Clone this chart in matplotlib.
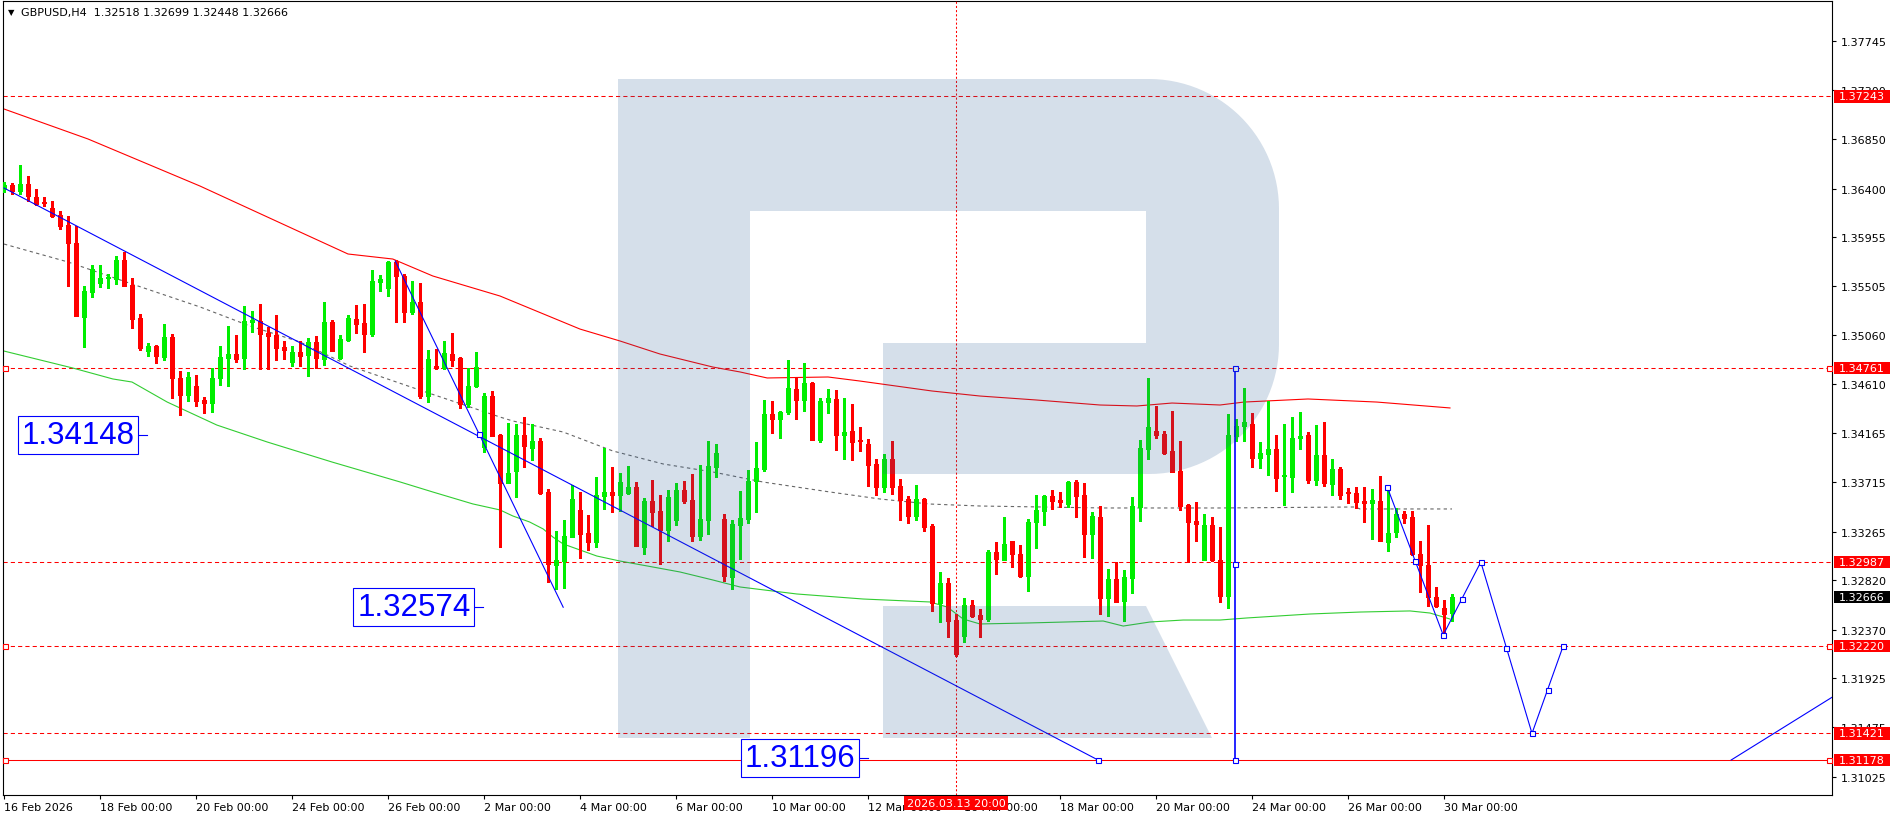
# GBPUSD H4 chart, MetaTrader style
import numpy as np
import matplotlib.pyplot as plt
from matplotlib.patches import Polygon, Rectangle

# candles, one per 4 hours from 16 Feb 2026 00:00 (6 bars a day, weekdays only)
opens = [
    1.36396, 1.36432, 1.36378, 1.36441, 1.36323, 1.36277, 1.36222, 1.36158, 1.36067, 1.35902,
    1.35226, 1.35455, 1.35537, 1.35582, 1.35573, 1.35747, 1.35518, 1.35217, 1.34916, 1.34961,
    1.34861, 1.35043, 1.34669, 1.34513, 1.34596, 1.34468, 1.34440, 1.34669, 1.34852, 1.34888,
    1.34852, 1.35180, 1.35189, 1.35080, 1.35061, 1.34952, 1.34815, 1.34906, 1.34879, 1.34998,
    1.34842, 1.35180, 1.34852, 1.35016, 1.35208, 1.35171, 1.35070, 1.35546, 1.35491, 1.35729,
    1.35601, 1.35272, 1.35363, 1.34504, 1.34778, 1.34760, 1.34888, 1.34852, 1.34431, 1.34596,
    1.34038, 1.34504, 1.34148, 1.33709, 1.33819, 1.34148, 1.34029, 1.34093, 1.33627, 1.32960,
    1.32997, 1.33216, 1.33463, 1.33252, 1.33170, 1.33591, 1.33627, 1.33600, 1.33618, 1.33673,
    1.33124, 1.33545, 1.33454, 1.33280, 1.33371, 1.33645, 1.33554, 1.33225, 1.33371, 1.33856,
    1.33380, 1.32850, 1.33326, 1.33380, 1.33728, 1.33837, 1.34340, 1.34294, 1.34358, 1.34568,
    1.34468, 1.34623, 1.34102, 1.34449, 1.34477, 1.34148, 1.34184, 1.34102, 1.34066, 1.33883,
    1.33673, 1.33929, 1.33682, 1.33563, 1.33408, 1.33563, 1.33316, 1.32613, 1.32795, 1.32457,
    1.32311, 1.32595, 1.32503, 1.32466, 1.33079, 1.33006, 1.33179, 1.33060, 1.32860, 1.33353,
    1.33454, 1.33591, 1.33554, 1.33517, 1.33718, 1.33600, 1.33243, 1.33399, 1.32658, 1.32832,
    1.32631, 1.32841, 1.33490, 1.34020, 1.34184, 1.34157, 1.34002, 1.33819, 1.33508, 1.33362,
    1.33006, 1.33326, 1.33006, 1.32677, 1.34139, 1.34230, 1.34248, 1.33938, 1.33974, 1.34020,
    1.33773, 1.33764, 1.34120, 1.34148, 1.33737, 1.33965, 1.33700, 1.33837, 1.33627, 1.33618,
    1.33545, 1.33526, 1.33545, 1.33170, 1.33261, 1.33426, 1.33399, 1.33060, 1.32960, 1.32667,
    1.32567, 1.32518]
highs = [
    1.36460, 1.36450, 1.36615, 1.36515, 1.36396, 1.36323, 1.36286, 1.36195, 1.36149, 1.36058,
    1.35509, 1.35701, 1.35701, 1.35619, 1.35784, 1.35820, 1.35582, 1.35253, 1.34988, 1.34970,
    1.35162, 1.35070, 1.34733, 1.34724, 1.34696, 1.34495, 1.34760, 1.34961, 1.35144, 1.35061,
    1.35327, 1.35281, 1.35345, 1.35135, 1.35244, 1.35007, 1.34961, 1.35007, 1.35034, 1.35052,
    1.35363, 1.35198, 1.35061, 1.35244, 1.35336, 1.35345, 1.35656, 1.35610, 1.35738, 1.35747,
    1.35619, 1.35555, 1.35537, 1.34925, 1.34934, 1.35007, 1.35080, 1.34861, 1.34760, 1.34906,
    1.34532, 1.34550, 1.34157, 1.34258, 1.34248, 1.34312, 1.34248, 1.34120, 1.33654, 1.33271,
    1.33371, 1.33691, 1.33627, 1.33417, 1.33764, 1.34029, 1.33856, 1.33801, 1.33865, 1.33718,
    1.33572, 1.33737, 1.33600, 1.33645, 1.33709, 1.33728, 1.33792, 1.33874, 1.34093, 1.34066,
    1.33426, 1.33371, 1.33636, 1.33829, 1.34084, 1.34468, 1.34459, 1.34367, 1.34833, 1.34678,
    1.34806, 1.34632, 1.34486, 1.34568, 1.34559, 1.34486, 1.34431, 1.34221, 1.34111, 1.33929,
    1.33974, 1.34093, 1.33746, 1.33591, 1.33691, 1.33572, 1.33335, 1.32896, 1.32841, 1.32512,
    1.32658, 1.32640, 1.32558, 1.33097, 1.33170, 1.33399, 1.33179, 1.33143, 1.33380, 1.33600,
    1.33600, 1.33645, 1.33627, 1.33728, 1.33737, 1.33709, 1.33444, 1.33499, 1.32923, 1.32988,
    1.32914, 1.33581, 1.34102, 1.34669, 1.34413, 1.34184, 1.34367, 1.34093, 1.33517, 1.33536,
    1.33426, 1.33399, 1.33307, 1.34340, 1.34294, 1.34577, 1.34349, 1.34084, 1.34459, 1.34148,
    1.34248, 1.34312, 1.34358, 1.34175, 1.34239, 1.34267, 1.33929, 1.33856, 1.33664, 1.33673,
    1.33673, 1.33654, 1.33774, 1.33654, 1.33481, 1.33454, 1.33454, 1.33179, 1.33325, 1.32759,
    1.32640, 1.32699]
lows = [
    1.36369, 1.36350, 1.36350, 1.36286, 1.36249, 1.36240, 1.36140, 1.36030, 1.35509, 1.35235,
    1.34952, 1.35409, 1.35500, 1.35491, 1.35527, 1.35509, 1.35125, 1.34925, 1.34870, 1.34806,
    1.34833, 1.34486, 1.34330, 1.34459, 1.34413, 1.34349, 1.34358, 1.34605, 1.34596, 1.34815,
    1.34751, 1.35089, 1.34751, 1.34751, 1.34833, 1.34842, 1.34778, 1.34778, 1.34687, 1.34760,
    1.34787, 1.34916, 1.34842, 1.35007, 1.35080, 1.34906, 1.35052, 1.35464, 1.35418, 1.35180,
    1.35180, 1.35253, 1.34486, 1.34449, 1.34751, 1.34751, 1.34778, 1.34394, 1.34404, 1.34586,
    1.33993, 1.34139, 1.33124, 1.33709, 1.33581, 1.33856, 1.33920, 1.33609, 1.32805, 1.32741,
    1.32750, 1.33216, 1.33024, 1.33097, 1.33124, 1.33472, 1.33444, 1.33454, 1.33609, 1.33133,
    1.33060, 1.33316, 1.32969, 1.33179, 1.33326, 1.33526, 1.33179, 1.33188, 1.33243, 1.33764,
    1.32814, 1.32741, 1.33015, 1.33344, 1.33444, 1.33819, 1.34166, 1.34120, 1.34340, 1.34294,
    1.34367, 1.34102, 1.34084, 1.34349, 1.34011, 1.33929, 1.33920, 1.34002, 1.33682, 1.33600,
    1.33627, 1.33609, 1.33371, 1.33344, 1.33371, 1.33271, 1.32540, 1.32439, 1.32302, 1.32128,
    1.32256, 1.32485, 1.32302, 1.32448, 1.32878, 1.33006, 1.32942, 1.32850, 1.32722, 1.33115,
    1.33326, 1.33472, 1.33490, 1.33490, 1.33399, 1.33033, 1.33024, 1.32512, 1.32494, 1.32622,
    1.32448, 1.32704, 1.33362, 1.33929, 1.34120, 1.33974, 1.33810, 1.33463, 1.32988, 1.33179,
    1.33006, 1.32997, 1.32622, 1.32567, 1.34093, 1.34093, 1.33856, 1.33847, 1.33782, 1.33636,
    1.33508, 1.33627, 1.34020, 1.33709, 1.33691, 1.33682, 1.33600, 1.33563, 1.33526, 1.33481,
    1.33353, 1.33197, 1.33179, 1.33088, 1.33216, 1.33344, 1.33051, 1.32713, 1.32585, 1.32576,
    1.32348, 1.32448]
closes = [
    1.36432, 1.36378, 1.36441, 1.36332, 1.36258, 1.36268, 1.36149, 1.36058, 1.35902, 1.35235,
    1.35464, 1.35665, 1.35582, 1.35591, 1.35747, 1.35509, 1.35208, 1.34943, 1.34961, 1.34870,
    1.35043, 1.34669, 1.34513, 1.34678, 1.34459, 1.34440, 1.34669, 1.34861, 1.34888, 1.34842,
    1.35189, 1.35198, 1.35070, 1.35052, 1.34943, 1.34925, 1.34906, 1.34870, 1.34998, 1.34852,
    1.35180, 1.34916, 1.35025, 1.35217, 1.35162, 1.35070, 1.35555, 1.35573, 1.35729, 1.35601,
    1.35272, 1.35363, 1.34504, 1.34842, 1.34760, 1.34897, 1.34833, 1.34431, 1.34596, 1.34769,
    1.34504, 1.34139, 1.33709, 1.33801, 1.34148, 1.34047, 1.34093, 1.33618, 1.32969, 1.33006,
    1.33225, 1.33563, 1.33243, 1.33170, 1.33600, 1.33627, 1.33600, 1.33718, 1.33673, 1.33133,
    1.33545, 1.33444, 1.33280, 1.33581, 1.33645, 1.33545, 1.33225, 1.33380, 1.33865, 1.33984,
    1.32860, 1.33335, 1.33390, 1.33728, 1.33847, 1.34340, 1.34294, 1.34358, 1.34577, 1.34468,
    1.34623, 1.34102, 1.34459, 1.34486, 1.34148, 1.34175, 1.34084, 1.34093, 1.33874, 1.33673,
    1.33929, 1.33673, 1.33554, 1.33408, 1.33563, 1.33307, 1.32613, 1.32795, 1.32448, 1.32146,
    1.32595, 1.32494, 1.32466, 1.33079, 1.33015, 1.33152, 1.33060, 1.32860, 1.33353, 1.33463,
    1.33591, 1.33545, 1.33536, 1.33718, 1.33591, 1.33243, 1.33408, 1.32658, 1.32832, 1.32622,
    1.32850, 1.33499, 1.34029, 1.34221, 1.34148, 1.33984, 1.33810, 1.33499, 1.33353, 1.33335,
    1.33326, 1.33006, 1.32677, 1.34148, 1.34230, 1.34267, 1.33938, 1.33984, 1.34020, 1.33755,
    1.33782, 1.34120, 1.34139, 1.33737, 1.33965, 1.33709, 1.33837, 1.33600, 1.33618, 1.33536,
    1.33526, 1.33554, 1.33179, 1.33252, 1.33426, 1.33390, 1.33060, 1.32960, 1.32667, 1.32585,
    1.32512, 1.32666]

date_labels = ["16 Feb 2026", "18 Feb 00:00", "20 Feb 00:00", "24 Feb 00:00", "26 Feb 00:00",
               "2 Mar 00:00", "4 Mar 00:00", "6 Mar 00:00", "10 Mar 00:00", "12 Mar 00:00",
               "16 Mar 00:00", "18 Mar 00:00", "20 Mar 00:00", "24 Mar 00:00", "26 Mar 00:00",
               "30 Mar 00:00"]
price_ticks = [1.37745, 1.37300, 1.36850, 1.36400, 1.35955, 1.35505, 1.35060, 1.34610,
               1.34165, 1.33715, 1.33265, 1.32820, 1.32370, 1.31925, 1.31475, 1.31025]

# moving averages, read at a few bars (bar index, price)
ma_red_x = [0, 10.5, 24.5, 37, 43, 48.6, 53.6, 62, 72, 77, 82, 88.6, 92, 95.4, 103, 107,
            116, 122, 129, 137, 141.6, 146, 152, 155, 163, 171.6, 180.75]
ma_red_y = [1.37127, 1.36853, 1.36423, 1.36003, 1.35802, 1.35756, 1.35601, 1.35418, 1.35116,
            1.35007, 1.34888, 1.34769, 1.34724, 1.34669, 1.34678, 1.34641, 1.34550, 1.34504,
            1.34468, 1.34422, 1.34413, 1.34440, 1.34422, 1.34449, 1.34477, 1.34449, 1.34395]
ma_green_x = [0, 8.6, 13.6, 16, 20.4, 26.6, 32.9, 41, 49.5, 53.6, 58.6, 62, 63.6, 65.7, 67.4,
              68.6, 69.9, 72, 74.1, 77, 80.4, 84.5, 88.6, 92, 99.1, 107.4, 115.75, 117.9,
              119.9, 122, 128, 137.4, 139.9, 143.25, 147.4, 152, 155.4, 163.25, 169.5,
              175.75, 178.25, 180.75]
ma_green_y = [1.34915, 1.34760, 1.34660, 1.34632, 1.34449, 1.34239, 1.34084, 1.33901, 1.33719,
              1.33627, 1.33518, 1.33463, 1.33408, 1.33353, 1.33289, 1.33216, 1.33152, 1.33097,
              1.33042, 1.32996, 1.32951, 1.32896, 1.32823, 1.32759, 1.32695, 1.32649, 1.32622,
              1.32576, 1.32466, 1.32421, 1.32430, 1.32448, 1.32402, 1.32439, 1.32457, 1.32457,
              1.32476, 1.32512, 1.32530, 1.32540, 1.32521, 1.32466]
ma_gray_x = [0, 8, 16, 24.5, 30.75, 37, 43.25, 51.6, 62, 63.6, 69.9, 76.1, 82.4, 88.6, 94.9,
             103.25, 109.5, 115.75, 122, 137.4, 152, 168.9, 169.5, 181]
ma_gray_y = [1.35893, 1.35729, 1.35528, 1.35318, 1.35144, 1.34998, 1.34778, 1.34568, 1.34312,
             1.34276, 1.34175, 1.34002, 1.33883, 1.33810, 1.33718, 1.33627, 1.33563, 1.33517,
             1.33499, 1.33481, 1.33481, 1.33490, 1.33472, 1.33472]

levels_dashed = [1.37243, 1.34761, 1.32987, 1.32220, 1.31421]
level_solid = 1.31178
levels_marked = [1.34761, 1.32220, 1.31178]
last_price = 1.32666

# blue drawings (bar index, price)
trend_long_x = [0, 136.75]
trend_long_y = [1.36405, 1.31178]
trend_steep_x = [48.9, 69.9]
trend_steep_y = [1.35738, 1.32574]
forecast_x = [172.9, 179.9, 184.6, 191.0, 194.9]
forecast_y = [1.33673, 1.32320, 1.32987, 1.31421, 1.32220]
trend_right_x = [215.9, 228.7]
trend_right_y = [1.31178, 1.31760]
vline_bar = 153.9
vline_y = [1.34761, 1.31178]

label_texts = ["1.34148", "1.32574", "1.31196"]
label_prices = [1.34148, 1.32574, 1.31196]
label_bars = [17.9, 59.9, 108.0]

cross_bar = 119
cross_text = "2026.03.13 20:00"
title = "GBPUSD,H4  1.32518 1.32699 1.32448 1.32666"

GREEN = "#00ee00"
RED = "#ff0000"
BLUE = "#0000ff"

W, H = 1896, 820
fig = plt.figure(figsize=(W / 100, H / 100), dpi=100)
ax = fig.add_axes([3 / W, 24 / H, 1829 / W, 794 / H])
ax.set_xlim(-0.125, 228.5)
ax.set_ylim(1.30858, 1.38114)
py = (1.38114 - 1.30858) / 794  # price per pixel

# levels
for lv in levels_dashed:
    ax.axhline(lv, color=RED, lw=0.75, ls=(0, (4, 3)), zorder=1)
ax.axhline(level_solid, color=RED, lw=0.75, zorder=1)
for lv in levels_marked:
    ax.plot([0.1, 228.1], [lv, lv], "s", ms=3.6, mfc="white", mec=RED, mew=0.8,
            zorder=6, clip_on=False, ls="none")

# indicators
ax.plot(ma_red_x, ma_red_y, color=RED, lw=0.8, zorder=2)
ax.plot(ma_green_x, ma_green_y, color="#32cd32", lw=0.8, zorder=2)
ax.plot(ma_gray_x, ma_gray_y, color="#666666", lw=0.8, ls=(0, (3, 3)), zorder=2)

# candles
o = np.array(opens)
h = np.array(highs)
l = np.array(lows)
c = np.array(closes)
idx = np.arange(len(o))
cols = np.where(c > o, GREEN, RED)
ax.vlines(idx, l, h, colors=cols, lw=0.8, antialiased=False, zorder=3)
ax.bar(idx, np.abs(c - o), bottom=np.minimum(o, c), width=0.55, color=cols,
       edgecolor=cols, lw=0.6, antialiased=False, zorder=4)

# crosshair
ax.axvline(cross_bar, color=RED, lw=0.75, ls=(0, (2, 2)), zorder=5)

# blue analysis lines
sq = dict(ms=3.6, mfc="white", mec=BLUE, mew=0.8, ls="none", zorder=7)
ax.plot(trend_long_x, trend_long_y, color=BLUE, lw=0.8, zorder=5)
ax.plot(trend_long_x[-1], trend_long_y[-1], "s", **sq)
ax.plot(trend_steep_x, trend_steep_y, color=BLUE, lw=0.8, zorder=5)
ax.plot(np.mean(trend_steep_x), np.mean(trend_steep_y), "s", **sq)
ax.plot(forecast_x, forecast_y, color=BLUE, lw=0.8, zorder=5)
fx = np.array(forecast_x)
fy = np.array(forecast_y)
ax.plot(fx, fy, "s", **sq)
ax.plot((fx[:-1] + fx[1:]) / 2, (fy[:-1] + fy[1:]) / 2, "s", **sq)
ax.plot(trend_right_x, trend_right_y, color=BLUE, lw=0.8, zorder=5)
ax.plot([vline_bar, vline_bar], vline_y, color=BLUE, lw=1.2, zorder=5)
ax.plot([vline_bar] * 3, [vline_y[0], np.mean(vline_y), vline_y[1]], "s", **sq)

for txt, val, b in zip(label_texts, label_prices, label_bars):
    ax.plot([b - 1.25, b], [val, val], color=BLUE, lw=0.8, zorder=5)
    ax.text(b - 1.6, val, txt, ha="right", va="center", fontsize=22.5,
            family="Liberation Sans", color=BLUE, zorder=8,
            bbox=dict(boxstyle="square,pad=0.12", fc="white", ec=BLUE, lw=0.8))

# axes styling
for sp in ax.spines.values():
    sp.set_color("black")
    sp.set_linewidth(0.8)
ax.yaxis.tick_right()
ax.set_yticks(price_ticks)
ax.set_yticklabels([f"{v:.5f}" for v in price_ticks])
ax.tick_params(axis="y", direction="out", length=3, width=0.8, pad=3, labelsize=8)
ax.set_xticks(np.arange(len(date_labels)) * 12)
ax.set_xticklabels(date_labels, ha="left")
ax.tick_params(axis="x", direction="out", length=3, width=0.8, pad=2, labelsize=8)

# price boxes on the right scale
ytr = ax.get_yaxis_transform()
for lv, bg in [(v, RED) for v in levels_dashed + [level_solid]] + [(last_price, "black")]:
    ax.add_patch(Rectangle((1.0011, lv - 6.3 * py), 56 / 1829, 12.6 * py, transform=ytr,
                           fc=bg, ec="none", clip_on=False, zorder=9))
    ax.text(1.0038, lv, f"{lv:.5f}", transform=ytr, color="white", fontsize=8,
            va="center", ha="left", clip_on=False, zorder=10)

# crosshair time box
ax.text(cross_bar, -0.004, cross_text, transform=ax.get_xaxis_transform(), ha="center",
        va="top", color="white", fontsize=8, clip_on=False, zorder=10,
        bbox=dict(boxstyle="square,pad=0.2", fc=RED, ec="none"))

# title
fig.text(11.5 / W, 1 - 13 / H, "\u25bc", fontsize=6, ha="center", va="center")
fig.text(21 / W, 1 - 13 / H, title, fontsize=8, ha="left", va="center")

# broker logo watermark, laid over the chart
lax = fig.add_axes([0, 0, 1, 1], zorder=5)
lax.set_xlim(0, W)
lax.set_ylim(H, 0)
lax.axis("off")
lax.patch.set_visible(False)
t = np.linspace(0, np.pi / 2, 30)
body = ([(618, 80), (1149, 80)]
        + list(zip(1149 + 130 * np.sin(t), 210 - 130 * np.cos(t)))
        + list(zip(1149 + 130 * np.cos(t), 345 + 130 * np.sin(t)))
        + [(883, 475), (883, 344), (1146, 344), (1146, 212), (750, 212), (750, 739), (618, 739)])
leg = [(883, 607), (1146, 607), (1212, 739), (883, 739)]
logo_col = (45 / 255, 95 / 255, 150 / 255)
for pts in (body, leg):
    lax.add_patch(Polygon(pts, closed=True, fc=logo_col, ec="none", alpha=0.2))

fig.savefig("out.png", dpi=100)
